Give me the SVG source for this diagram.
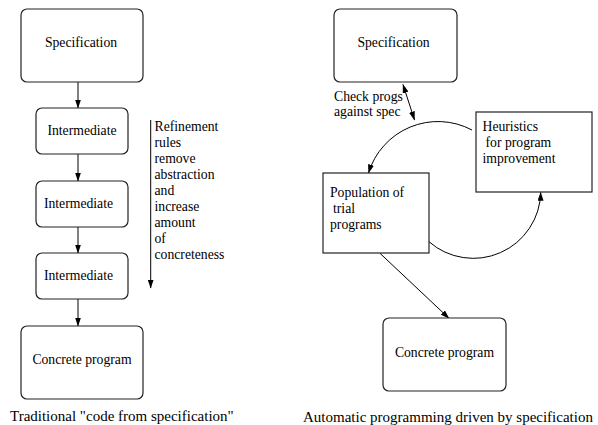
<svg xmlns="http://www.w3.org/2000/svg" width="598" height="425" viewBox="0 0 598 425">
<style>
text{font-size:13.7px;fill:#000}
.m{text-anchor:middle}
.cap{font-size:15px}
.box{fill:#fff;stroke:#222;stroke-width:1.2}
.ln{fill:none;stroke:#000;stroke-width:1}
</style>
<defs>
<marker id="ah" markerWidth="9" markerHeight="6" refX="8.5" refY="3" orient="auto" markerUnits="userSpaceOnUse">
<path d="M0,0 L9,3 L0,6 z" fill="#000"/>
</marker>
<marker id="as" markerWidth="9" markerHeight="6" refX="0.5" refY="3" orient="auto" markerUnits="userSpaceOnUse">
<path d="M9,0 L0,3 L9,6 z" fill="#000"/>
</marker>
</defs>
<rect width="598" height="425" fill="#fff"/>
<g id="connectors">
<line class="ln" x1="78" y1="82" x2="78" y2="108" marker-end="url(#ah)"/>
<line class="ln" x1="78" y1="154" x2="78" y2="181" marker-end="url(#ah)"/>
<line class="ln" x1="78" y1="227" x2="78" y2="253" marker-end="url(#ah)"/>
<line class="ln" x1="78" y1="299" x2="78" y2="326" marker-end="url(#ah)"/>
<line class="ln" x1="150.7" y1="120" x2="150.7" y2="288" marker-end="url(#ah)"/>
<line class="ln" x1="403" y1="84.5" x2="414.5" y2="120" marker-start="url(#as)" marker-end="url(#ah)"/>
<path class="ln" d="M472,130 A72.6,72.6 0 0 0 368.5,173" marker-end="url(#ah)"/>
<path class="ln" d="M429,241.7 A67.4,67.4 0 0 0 540.7,192.3" marker-end="url(#ah)"/>
<line class="ln" x1="380" y1="253.3" x2="449" y2="318.3" marker-end="url(#ah)"/>
</g>
<g font-family="Liberation Serif, Times New Roman, serif">
<g id="spec-left"><rect class="box" x="21" y="9" width="122" height="73" rx="6"/><text class="m" x="81" y="47">Specification</text></g>
<g id="inter1"><rect class="box" x="36" y="108" width="92" height="46" rx="6"/><text class="m" x="82" y="135">Intermediate</text></g>
<g id="inter2"><rect class="box" x="36" y="181" width="92" height="46" rx="6"/><text class="m" x="78.5" y="208">Intermediate</text></g>
<g id="inter3"><rect class="box" x="36" y="253" width="92" height="46" rx="6"/><text class="m" x="78.5" y="280">Intermediate</text></g>
<g id="concrete-left"><rect class="box" x="21" y="326" width="122" height="73" rx="6"/><text class="m" x="82" y="364">Concrete program</text></g>
<g id="refinement-note">
<text x="154.5" y="131">Refinement</text>
<text x="154.5" y="147">rules</text>
<text x="154.5" y="163">remove</text>
<text x="154.5" y="179">abstraction</text>
<text x="154.5" y="195">and</text>
<text x="154.5" y="211">increase</text>
<text x="154.5" y="227">amount</text>
<text x="154.5" y="243">of</text>
<text x="154.5" y="259">concreteness</text>
</g>
<g id="caption-left"><text class="cap" x="10" y="421">Traditional "code from specification"</text></g>
<g id="spec-right"><rect class="box" x="334" y="9" width="123" height="73" rx="6"/><text class="m" x="393.5" y="47">Specification</text></g>
<g id="check-label"><text x="334" y="101">Check progs</text><text x="334" y="116">against spec</text></g>
<g id="heuristics"><rect class="box" x="476" y="112" width="116" height="80"/>
<text x="482.5" y="131">Heuristics</text><text x="485.5" y="147">for program</text><text x="482.5" y="163">improvement</text></g>
<g id="population"><rect class="box" x="323" y="173" width="106" height="80"/>
<text x="330" y="197">Population of</text><text x="333" y="213">trial</text><text x="330" y="229">programs</text></g>
<g id="concrete-right"><rect class="box" x="383" y="318" width="123" height="73" rx="6"/><text class="m" x="444.5" y="357">Concrete program</text></g>
<g id="caption-right"><text class="cap" x="303" y="422">Automatic programming driven by specification</text></g>
</g>
</svg>
